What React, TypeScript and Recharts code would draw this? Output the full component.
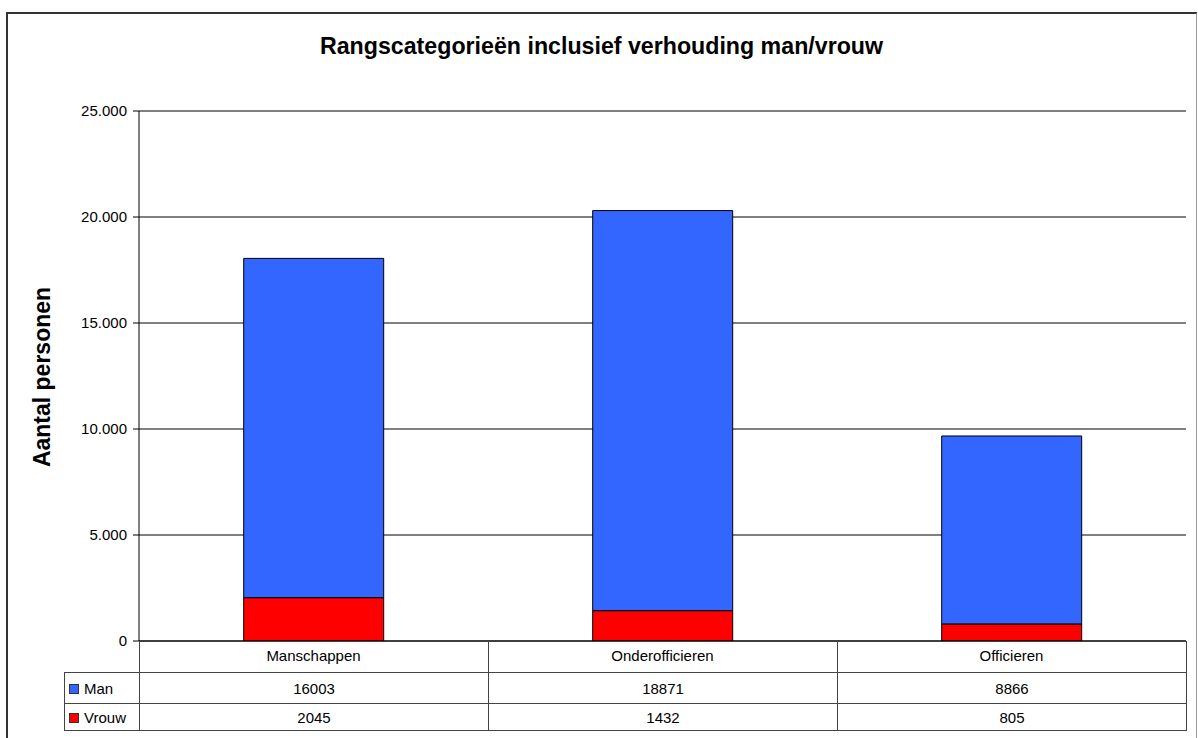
import { Bar, BarChart, CartesianGrid, XAxis, YAxis } from 'recharts'

const categories = ['Manschappen', 'Onderofficieren', 'Officieren']
const manValues = [16003, 18871, 8866]
const vrouwValues = [2045, 1432, 805]
const yTicks = [0, 5000, 10000, 15000, 20000, 25000]

const MAN_COLOR = '#3366FF'
const VROUW_COLOR = '#FF0000'
const FONT = 'Arial, "Liberation Sans", sans-serif'

const W = 1198
const H = 738
const PLOT_LEFT = 139
const PLOT_RIGHT = 1186
const PLOT_TOP = 111
const PLOT_BOTTOM = 641
const Y_AXIS_W = 70
const X_AXIS_H = 30

const data = categories.map((name, i) => ({ name, man: manValues[i], vrouw: vrouwValues[i] }))

const tableRows = [
    { label: 'Man', color: MAN_COLOR, values: manValues, top: 672, height: 31 },
    { label: 'Vrouw', color: VROUW_COLOR, values: vrouwValues, top: 703, height: 27 },
]

const fmt = (n: number) => String(n).replace(/\B(?=(\d{3})+(?!\d))/g, '.')

const DataTable = () => {
    const colW = (PLOT_RIGHT - PLOT_LEFT) / categories.length
    const line = '1px solid #444'
    return (
        <>
            {/* category row: verticals only, axis line is the top */}
            {categories.map((c, i) => (
                <div key={c} style={{
                    position: 'absolute', left: PLOT_LEFT + i * colW, top: PLOT_BOTTOM,
                    width: colW + 1, height: 672 - PLOT_BOTTOM, borderLeft: line,
                    borderRight: i === categories.length - 1 ? line : 'none', boxSizing: 'border-box',
                }} />
            ))}
            {tableRows.map(r => (
                <div key={r.label}>
                    <div style={{
                        position: 'absolute', left: 64, top: r.top, width: PLOT_LEFT - 64 + 1, height: r.height + 1,
                        border: line, boxSizing: 'border-box', fontSize: 15, lineHeight: `${r.height}px`,
                        whiteSpace: 'nowrap',
                    }}>
                        <span style={{
                            display: 'inline-block', width: 8, height: 8, background: r.color,
                            border: '1px solid #333', marginLeft: 4, marginRight: 5, verticalAlign: 'middle',
                            position: 'relative', top: -1,
                        }} />
                        {r.label}
                    </div>
                    {r.values.map((v, i) => (
                        <div key={i} style={{
                            position: 'absolute', left: PLOT_LEFT + i * colW, top: r.top,
                            width: colW + 1, height: r.height + 1, border: line, boxSizing: 'border-box',
                            fontSize: 15, lineHeight: `${r.height}px`, textAlign: 'center',
                        }}>{v}</div>
                    ))}
                </div>
            ))}
        </>
    )
}

const App = () => {
    return (
        <div style={{ position: 'absolute', left: 0, top: 0, width: W, height: H, overflow: 'hidden', background: '#fff', fontFamily: FONT, color: '#000' }}>
            <div style={{
                position: 'absolute', left: 6, top: 12, width: 1191, height: 760, boxSizing: 'border-box',
                borderTop: '2px solid #333', borderLeft: '2px solid #333', borderRight: '1px solid #999',
            }} />
            <div style={{
                position: 'absolute', left: 6, width: 1191, top: 35, height: 23, lineHeight: '23px',
                fontSize: 23.2, fontWeight: 'bold', textAlign: 'center', whiteSpace: 'nowrap',
            }}>Rangscategorieën inclusief verhouding man/vrouw</div>
            <div style={{
                position: 'absolute', left: 42, top: 377, transform: 'translate(-50%, -50%) rotate(-90deg)',
                fontSize: 23, fontWeight: 'bold', whiteSpace: 'nowrap', lineHeight: '26px',
            }}>Aantal personen</div>
            <div style={{ position: 'absolute', left: 0, top: 0 }}>
                <BarChart
                    width={W}
                    height={H}
                    data={data}
                    barCategoryGap="30%"
                    margin={{ top: PLOT_TOP, right: W - PLOT_RIGHT, bottom: H - PLOT_BOTTOM - X_AXIS_H, left: PLOT_LEFT - Y_AXIS_W }}
                >
                    <CartesianGrid vertical={false} stroke="#000" />
                    <XAxis
                        dataKey="name"
                        height={X_AXIS_H}
                        tickLine={false}
                        tickSize={0}
                        tickMargin={9}
                        axisLine={{ stroke: '#000' }}
                        tick={{ fontSize: 15, fill: '#000', fontFamily: FONT }}
                        interval={0}
                    />
                    <YAxis
                        width={Y_AXIS_W}
                        domain={[0, 25000]}
                        ticks={yTicks}
                        tickFormatter={fmt}
                        tickSize={6}
                        tickMargin={6}
                        axisLine={{ stroke: '#000' }}
                        tickLine={{ stroke: '#000' }}
                        tick={{ fontSize: 15, fill: '#000', fontFamily: FONT }}
                        allowDataOverflow
                    />
                    <Bar dataKey="vrouw" name="Vrouw" stackId="a" fill={VROUW_COLOR} stroke="#000" strokeWidth={1} isAnimationActive={false} />
                    <Bar dataKey="man" name="Man" stackId="a" fill={MAN_COLOR} stroke="#000" strokeWidth={1} isAnimationActive={false} />
                </BarChart>
            </div>
            <DataTable />
        </div>
    )
}

export default App
